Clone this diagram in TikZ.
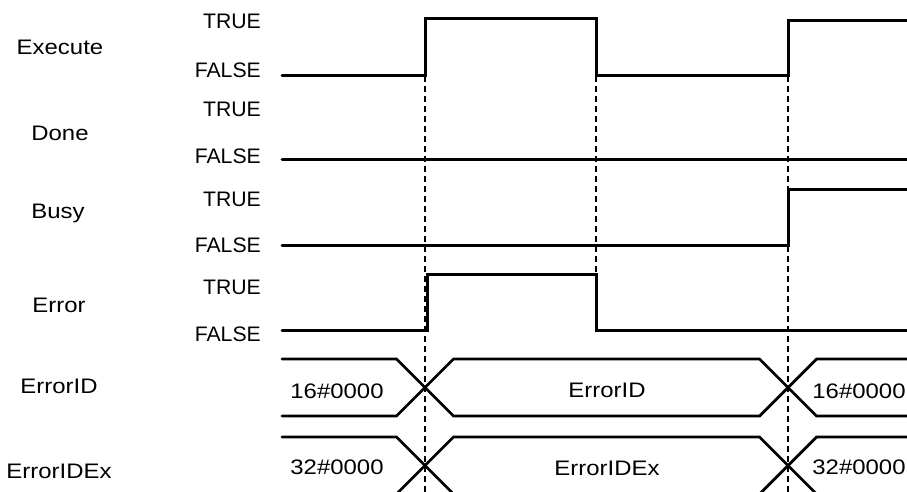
\documentclass[tikz,border=0pt]{standalone}
\usepackage{fontspec}
\setmainfont{Liberation Sans}
\begin{document}
\begin{tikzpicture}[x=1pt,y=-1pt,
  sig/.style={line width=3pt, line cap=round, line join=miter},
  bus/.style={line width=2.8pt, line cap=round, line join=miter},
  guide/.style={line width=1.3pt, dash pattern=on 6pt off 4pt},
  lbl/.style={font=\fontsize{21}{25}\selectfont, inner sep=0pt, anchor=base, xscale=1.14},
  lvl/.style={font=\fontsize{21}{25}\selectfont, inner sep=0pt, anchor=base east, xscale=1.01},
  val/.style={font=\fontsize{21}{25}\selectfont, inner sep=0pt, anchor=base, xscale=1.14}]
\useasboundingbox (0,0) rectangle (907,491);
\clip (0,0) rectangle (907,491);

% signal names
\node[lbl] (nExec) at (60,54)  {Execute};
\node[lbl] (nDone) at (60,140) {Done};
\node[lbl] (nBusy) at (58,218) {Busy};
\node[lbl] (nErr)  at (59,312) {Error};
\node[lbl] (nEID)  at (59,393) {ErrorID};
\node[lbl] (nEIDx) at (59,478) {ErrorIDEx};

% levels
\node[lvl] (t1) at (261,28)  {TRUE};
\node[lvl] (f1) at (261,77)  {FALSE};
\node[lvl] (t2) at (261,116) {TRUE};
\node[lvl] (f2) at (261,163) {FALSE};
\node[lvl] (t3) at (261,206) {TRUE};
\node[lvl] (f3) at (261,252) {FALSE};
\node[lvl] (t4) at (261,294) {TRUE};
\node[lvl] (f4) at (261,341) {FALSE};

% guide lines
\draw[guide] (425,76) -- (425,495);
\draw[guide] (596,76) -- (596,330);
\draw[guide] (788,76) -- (788,495);

% Execute
\draw[sig] (282,75) -- (425,75) -- (425,18) -- (596,18) -- (596,75) -- (788,75) -- (788,20) -- (915,20);
% Done
\draw[sig] (282,159) -- (915,159);
% Busy
\draw[sig] (282,245) -- (788,245) -- (788,189) -- (915,189);
% Error
\draw[sig] (282,330) -- (427,330) -- (427,274) -- (596,274) -- (596,330) -- (915,330);

% ErrorID bus
\draw[bus] (282,359) -- (396.5,359) -- (453.5,416) -- (759.5,416) -- (816.5,359) -- (915,359);
\draw[bus] (282,416) -- (396.5,416) -- (453.5,359) -- (759.5,359) -- (816.5,416) -- (915,416);
% ErrorIDEx bus
\draw[bus] (282,437) -- (396.5,437) -- (453.5,494) -- (759.5,494) -- (816.5,437) -- (915,437);
\draw[bus] (282,494) -- (396.5,494) -- (453.5,437) -- (759.5,437) -- (816.5,494) -- (915,494);

% bus values
\node[val] (v1) at (337,398) {16\#0000};
\node[val] (v2) at (607,397) {ErrorID};
\node[val] (v3) at (859,398) {16\#0000};
\node[val] (v4) at (337,474) {32\#0000};
\node[val] (v5) at (607,475) {ErrorIDEx};
\node[val] (v6) at (859,474) {32\#0000};
\end{tikzpicture}
\end{document}
